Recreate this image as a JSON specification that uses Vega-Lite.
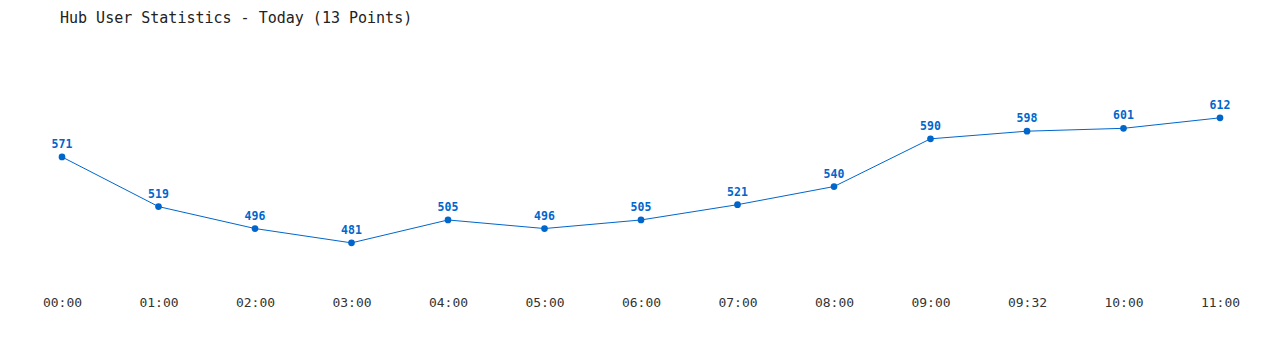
{
  "$schema": "https://vega.github.io/schema/vega-lite/v6.json",
  "autosize": {"type": "none"},
  "width": 1158,
  "height": 210,
  "padding": {"left": 62, "top": 72, "right": 60, "bottom": 68},
  "background": "white",
  "title": {
    "text": "Hub User Statistics - Today (13 Points)",
    "anchor": "start",
    "frame": "group",
    "font": "DejaVu Sans Mono",
    "fontSize": 15,
    "fontWeight": "normal",
    "color": "#222222",
    "offset": 46,
    "dx": -2
  },
  "config": {"view": {"stroke": null}},
  "data": {
    "values": [
      {"time": "00:00", "users": 571},
      {"time": "01:00", "users": 519},
      {"time": "02:00", "users": 496},
      {"time": "03:00", "users": 481},
      {"time": "04:00", "users": 505},
      {"time": "05:00", "users": 496},
      {"time": "06:00", "users": 505},
      {"time": "07:00", "users": 521},
      {"time": "08:00", "users": 540},
      {"time": "09:00", "users": 590},
      {"time": "09:32", "users": 598},
      {"time": "10:00", "users": 601},
      {"time": "11:00", "users": 612}
    ]
  },
  "encoding": {
    "x": {
      "field": "time",
      "type": "ordinal",
      "scale": {"type": "point", "padding": 0},
      "axis": {
        "title": null,
        "domain": false,
        "ticks": false,
        "labelAngle": 0,
        "labelPadding": 14,
        "labelFont": "DejaVu Sans Mono",
        "labelFontSize": 13,
        "labelColor": "#333333"
      }
    },
    "y": {
      "field": "users",
      "type": "quantitative",
      "scale": {"domain": [440, 660], "nice": false, "zero": false},
      "axis": null
    }
  },
  "layer": [
    {"mark": {"type": "line", "color": "#0066cc", "strokeWidth": 1}},
    {"mark": {"type": "point", "filled": true, "color": "#0066cc", "size": 45, "opacity": 1}},
    {
      "mark": {
        "type": "text",
        "color": "#0066cc",
        "font": "DejaVu Sans Mono",
        "fontSize": 11.5,
        "fontWeight": "bold",
        "dy": -12,
        "baseline": "middle"
      },
      "encoding": {"text": {"field": "users", "type": "quantitative"}}
    }
  ]
}
